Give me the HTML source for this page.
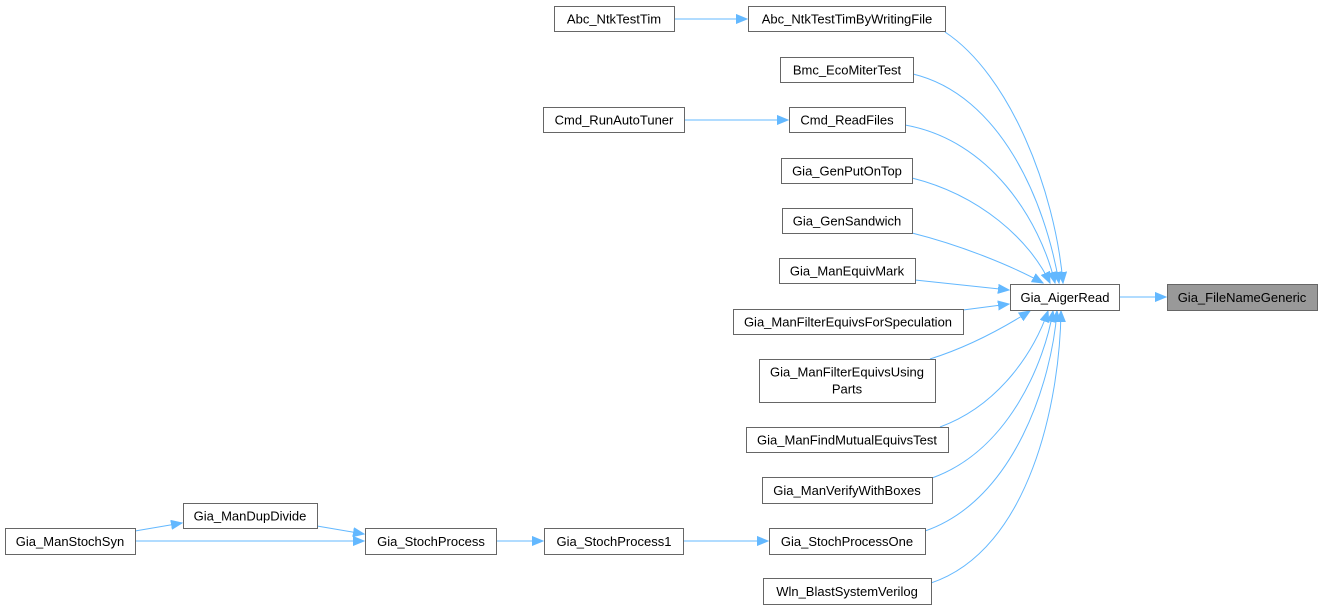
<!DOCTYPE html>
<html><head><meta charset="utf-8"><style>
html,body{margin:0;padding:0;background:#fff;}
svg{display:block;font-family:"Liberation Sans",Arial,sans-serif;font-size:13px;}
rect{fill:#fff;stroke:#666;stroke-width:1;}
path{fill:none;stroke:#63b8ff;stroke-width:1;}
text{fill:#000;text-anchor:middle;}
</style></head><body>
<svg width="1322" height="611" viewBox="0 0 1322 611" xmlns="http://www.w3.org/2000/svg">
<defs>
<marker id="a" markerUnits="userSpaceOnUse" markerWidth="12" markerHeight="10" refX="11" refY="5" orient="auto">
<path d="M0,0.5 L11,5 L0,9.5 Z" style="fill:#63b8ff;stroke:#63b8ff"/>
</marker>
</defs>
<path d="M674,19 L747,19" marker-end="url(#a)"/>
<path d="M684,120 L788,120" marker-end="url(#a)"/>
<path d="M1119,297 L1166,297" marker-end="url(#a)"/>
<path d="M945,32 C1010,75 1055,190 1063,283" marker-end="url(#a)"/>
<path d="M913,74 C1000,95 1045,200 1059,283" marker-end="url(#a)"/>
<path d="M905,125 C990,140 1040,220 1055,283" marker-end="url(#a)"/>
<path d="M912,178 C980,195 1030,240 1050,283" marker-end="url(#a)"/>
<path d="M912,233 C960,245 1010,265 1043,283" marker-end="url(#a)"/>
<path d="M915,280 L1009,290" marker-end="url(#a)"/>
<path d="M963,310 L1009,304" marker-end="url(#a)"/>
<path d="M930,359 C965,348 1000,330 1030,311" marker-end="url(#a)"/>
<path d="M940,427 C1000,405 1035,350 1048,311" marker-end="url(#a)"/>
<path d="M932,478 C1010,450 1045,360 1053,311" marker-end="url(#a)"/>
<path d="M925,531 C1015,500 1052,380 1057,311" marker-end="url(#a)"/>
<path d="M931,583 C1030,550 1060,400 1061,311" marker-end="url(#a)"/>
<path d="M135,531 L182,523" marker-end="url(#a)"/>
<path d="M135,541 L364,541" marker-end="url(#a)"/>
<path d="M317,526 L364,534" marker-end="url(#a)"/>
<path d="M496,541 L543,541" marker-end="url(#a)"/>
<path d="M683,541 L768,541" marker-end="url(#a)"/>
<rect x="554.5" y="6.5" width="120" height="25"/><text x="614" y="23.5">Abc_NtkTestTim</text>
<rect x="748.5" y="6.5" width="197" height="25"/><text x="847" y="23.5">Abc_NtkTestTimByWritingFile</text>
<rect x="780.5" y="57.5" width="133" height="25"/><text x="847" y="74.5">Bmc_EcoMiterTest</text>
<rect x="543.5" y="107.5" width="141" height="25"/><text x="614" y="124.5">Cmd_RunAutoTuner</text>
<rect x="789.5" y="107.5" width="116" height="25"/><text x="847" y="124.5">Cmd_ReadFiles</text>
<rect x="781.5" y="158.5" width="131" height="25"/><text x="847" y="175.5">Gia_GenPutOnTop</text>
<rect x="782.5" y="208.5" width="130" height="25"/><text x="847" y="225.5">Gia_GenSandwich</text>
<rect x="779.5" y="258.5" width="136" height="25"/><text x="847" y="275.5">Gia_ManEquivMark</text>
<rect x="1010.5" y="284.5" width="109" height="26"/><text x="1065" y="302">Gia_AigerRead</text>
<rect x="1167.5" y="284.5" width="150" height="26" style="fill:#999;stroke:#666"/><text x="1242" y="302">Gia_FileNameGeneric</text>
<rect x="733.5" y="309.5" width="230" height="25"/><text x="848" y="326.5">Gia_ManFilterEquivsForSpeculation</text>
<rect x="759.5" y="359.5" width="176" height="43"/><text x="847" y="376.5">Gia_ManFilterEquivsUsing</text><text x="847" y="393.5">Parts</text>
<rect x="746.5" y="427.5" width="202" height="25"/><text x="847" y="444.5">Gia_ManFindMutualEquivsTest</text>
<rect x="762.5" y="477.5" width="170" height="26"/><text x="847" y="495">Gia_ManVerifyWithBoxes</text>
<rect x="769.5" y="528.5" width="156" height="26"/><text x="847" y="546">Gia_StochProcessOne</text>
<rect x="763.5" y="578.5" width="168" height="26"/><text x="847" y="596">Wln_BlastSystemVerilog</text>
<rect x="5.5" y="528.5" width="130" height="26"/><text x="70" y="546">Gia_ManStochSyn</text>
<rect x="183.5" y="503.5" width="134" height="25"/><text x="250" y="520.5">Gia_ManDupDivide</text>
<rect x="365.5" y="528.5" width="131" height="26"/><text x="431" y="546">Gia_StochProcess</text>
<rect x="544.5" y="528.5" width="139" height="26"/><text x="614" y="546">Gia_StochProcess1</text>
</svg>
</body></html>
